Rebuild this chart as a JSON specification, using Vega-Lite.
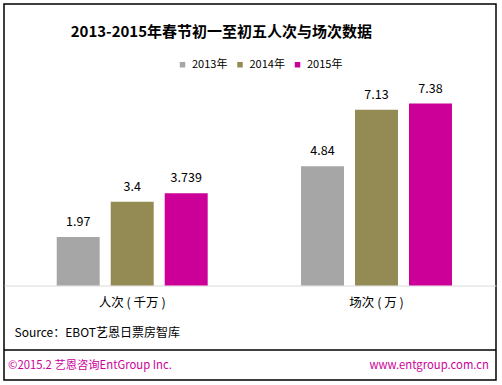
{
  "$schema": "https://vega.github.io/schema/vega-lite/v6.json",
  "width": 492,
  "height": 376,
  "autosize": {"type": "none"},
  "padding": {"left": 4, "top": 4, "right": 6, "bottom": 5},
  "background": "white",
  "config": {
    "font": "Noto Sans CJK SC",
    "view": {"stroke": "#000000", "strokeWidth": 1.5}
  },
  "title": {
    "text": "2013-2015年春节初一至初五人次与场次数据",
    "anchor": "start",
    "frame": "group",
    "dx": 66.7,
    "offset": -43,
    "baseline": "middle",
    "fontSize": 15,
    "fontWeight": "bold",
    "color": "#000000",
    "font": "Noto Sans CJK SC"
  },
  "datasets": {
    "bars": [
      {"metric": "人次 ( 千万 )", "year": "2013年", "value": 1.97},
      {"metric": "人次 ( 千万 )", "year": "2014年", "value": 3.4},
      {"metric": "人次 ( 千万 )", "year": "2015年", "value": 3.739},
      {"metric": "场次 ( 万 )", "year": "2013年", "value": 4.84},
      {"metric": "场次 ( 万 )", "year": "2014年", "value": 7.13},
      {"metric": "场次 ( 万 )", "year": "2015年", "value": 7.38}
    ],
    "footer": [
      {"note": "©2015.2  艺恩咨询EntGroup Inc."},
      {"note": "www.entgroup.com.cn"}
    ]
  },
  "layer": [
    {
      "data": {"name": "bars"},
      "encoding": {
        "x": {
          "field": "metric",
          "type": "nominal",
          "sort": null,
          "scale": {"type": "band", "paddingInner": 0.382, "paddingOuter": 0.198, "align": 0.545},
          "axis": {
            "orient": "bottom",
            "offset": -94.5,
            "title": "Source：EBOT艺恩日票房智库",
            "titleX": 10,
            "titleY": 46.5,
            "titleAlign": "left",
            "titleAnchor": "start",
            "titleBaseline": "middle",
            "titleFontSize": 12,
            "titleFontWeight": "normal",
            "titleColor": "#000000",
            "labelFontSize": 12.5,
            "labelColor": "#000000",
            "labelPadding": 11,
            "labelAngle": 0,
            "ticks": false,
            "grid": false,
            "domainColor": "#D9D9D9",
            "domainWidth": 1
          }
        },
        "xOffset": {
          "field": "year",
          "type": "nominal",
          "sort": null,
          "scale": {"paddingInner": 0.204, "paddingOuter": 0}
        },
        "y": {
          "field": "value",
          "type": "quantitative",
          "scale": {"domain": [-3.834, 11.42], "nice": false, "zero": false},
          "axis": null
        }
      },
      "layer": [
        {
          "mark": {"type": "bar"},
          "encoding": {
            "color": {
              "field": "year",
              "type": "nominal",
              "sort": null,
              "scale": {"domain": ["2013年", "2014年", "2015年"], "range": ["#A6A6A6", "#948A54", "#CC0099"]},
              "legend": {
                "orient": "none",
                "legendX": 173,
                "legendY": 55,
                "direction": "horizontal",
                "title": null,
                "symbolType": "square",
                "symbolSize": 30,
                "symbolStrokeWidth": 0,
                "labelFontSize": 11,
                "labelColor": "#000000",
                "labelOffset": 4,
                "columnPadding": 6.5,
                "padding": 0
              }
            }
          }
        },
        {
          "mark": {"type": "text", "baseline": "alphabetic", "dy": -11, "fontSize": 12.5, "color": "#000000"},
          "encoding": {
            "text": {"field": "value", "type": "nominal"}
          }
        }
      ]
    },
    {
      "data": {"values": [{}]},
      "mark": {"type": "rule", "color": "#000000", "strokeWidth": 1.5},
      "encoding": {
        "y": {"datum": -2.617, "type": "quantitative", "scale": {"domain": [-3.834, 11.42], "nice": false, "zero": false}}
      }
    },
    {
      "data": {"name": "footer"},
      "mark": {
        "type": "text",
        "fontSize": 11.3,
        "color": "#CC0099",
        "baseline": "middle",
        "align": {"expr": "datum.note === 'www.entgroup.com.cn' ? 'right' : 'left'"}
      },
      "encoding": {
        "x": {
          "field": "note",
          "type": "nominal",
          "sort": null,
          "scale": {"type": "point", "padding": 0.0114, "align": 0.364},
          "axis": null
        },
        "y": {"datum": -3.254, "type": "quantitative", "scale": {"domain": [-3.834, 11.42], "nice": false, "zero": false}},
        "text": {"field": "note", "type": "nominal"}
      }
    }
  ],
  "resolve": {"scale": {"x": "independent"}}
}
